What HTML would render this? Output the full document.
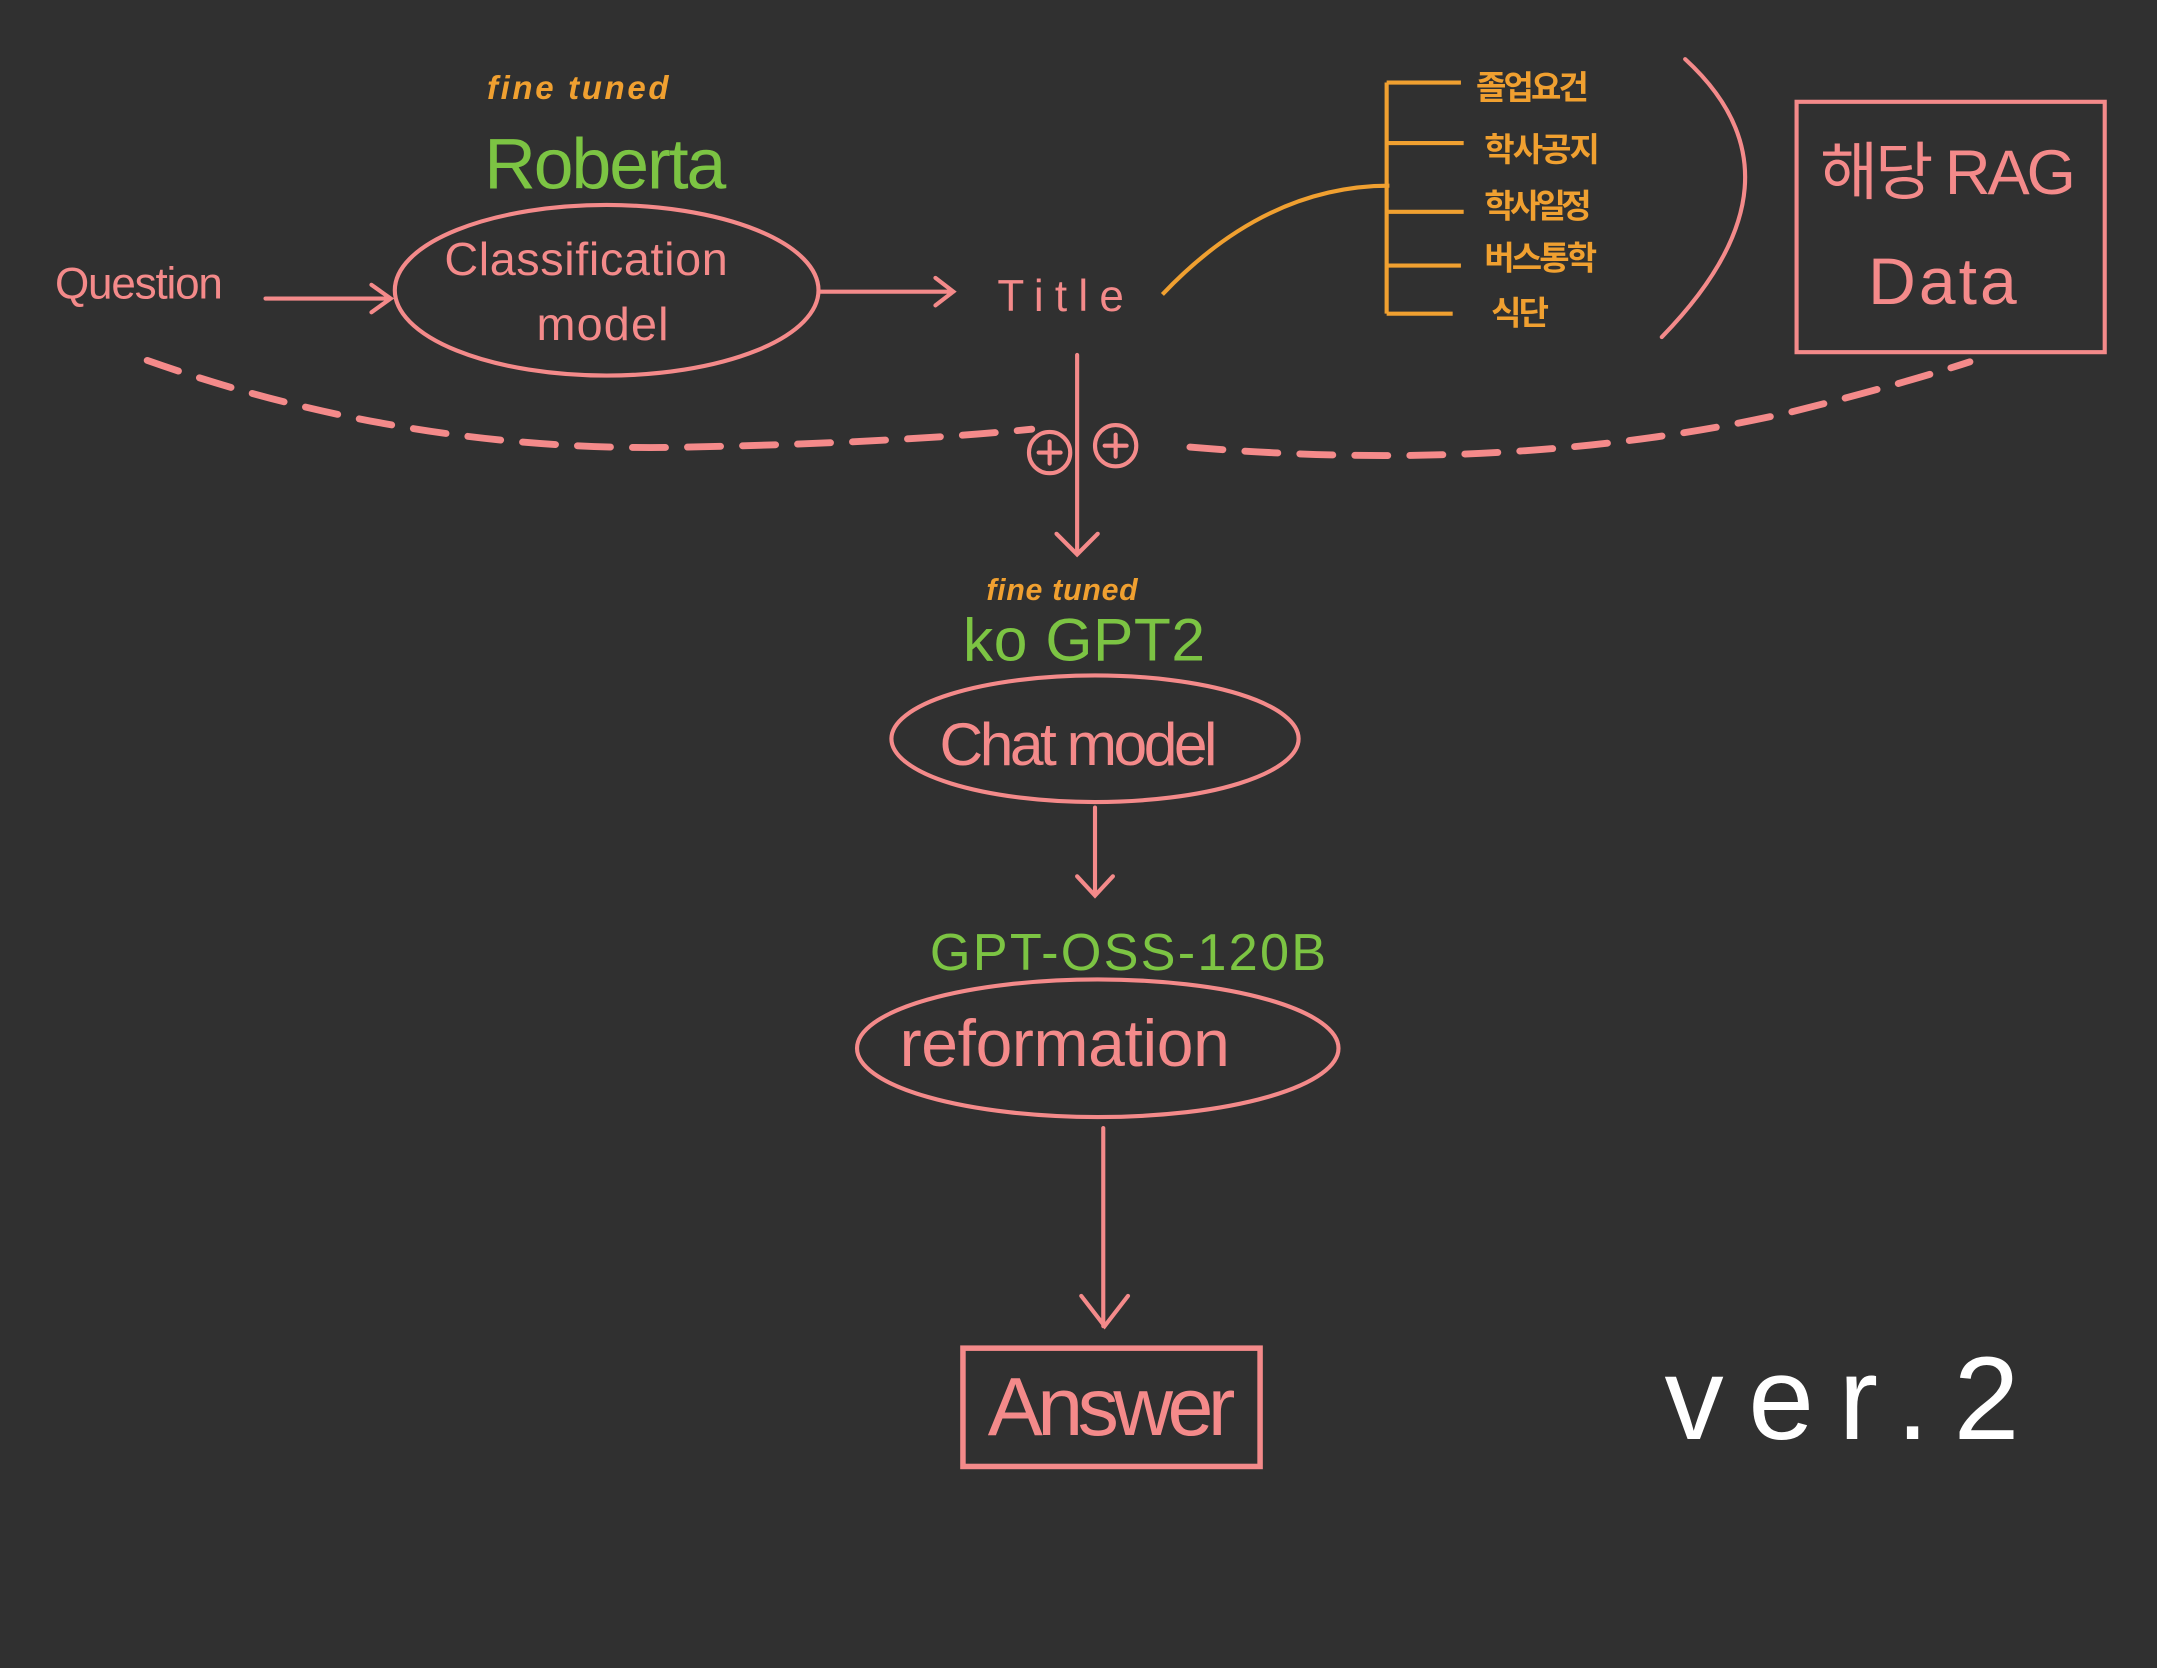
<!DOCTYPE html>
<html><head><meta charset="utf-8"><style>
html,body{margin:0;padding:0;background:#303030;}
svg{display:block;}
text{font-family:"Liberation Sans","Noto Sans CJK KR",sans-serif;}
</style></head><body>
<svg width="2157" height="1668" viewBox="0 0 1568 1212.5" preserveAspectRatio="none" xmlns="http://www.w3.org/2000/svg">
<rect width="1568" height="1213" fill="#303030"/>
<g fill="none" stroke="#f48a8a" stroke-width="3" stroke-linecap="round">
<ellipse cx="441" cy="211" rx="154" ry="62"/>
<ellipse cx="796" cy="537" rx="148" ry="46"/>
<ellipse cx="798" cy="762" rx="175" ry="50"/>
<rect x="700" y="980" width="216" height="86" stroke-width="4"/>
<rect x="1306" y="74" width="224" height="182"/>
<path d="M193 217 H283 M270 207 L284 217 L270 227"/>
<path d="M596 212 H693 M680 202 L693 212 L680 222"/>
<path d="M783 258 V402 M768 388 L783 403 L798 388"/>
<path d="M796 587 V651 M783 637 L796 651 L809 637"/>
<path d="M802 820 V964 M786 942 L803 964 L820 942"/>
<path d="M1225 43 Q1320 130 1208 245"/>
<path d="M107 262 Q300 330 500 325 Q650 322 750 312" stroke-width="5" stroke-dasharray="24 16"/>
<path d="M865 325 Q1100 345 1300 300 Q1380 280 1432 263" stroke-width="5" stroke-dasharray="24 16"/>
<circle cx="763" cy="329" r="15"/>
<path d="M755 329 H771 M763 321 V337"/>
<circle cx="811" cy="324" r="15"/>
<path d="M803 324 H819 M811 316 V332"/>
</g>
<g fill="none" stroke="#f0a030" stroke-width="3">
<path d="M1008 60 V228"/>
<path d="M1008 60 H1062 M1008 104 H1064 M1008 154 H1064 M1008 193 H1062 M1008 228 H1056"/>
<path d="M845 214 Q920 135 1010 135"/>
</g>
<g fill="#f0a030" font-size="24" font-weight="bold">
<text x="1073" y="72" textLength="82">졸업요건</text>
<text x="1079" y="117" textLength="84">학사공지</text>
<text x="1079" y="158" textLength="78">학사일정</text>
<text x="1079" y="196" textLength="82">버스통학</text>
<text x="1084" y="236" textLength="42">식단</text>
<text x="354" y="72" font-style="italic" textLength="132">fine tuned</text>
<text x="717" y="436" font-style="italic" font-size="22" textLength="110">fine tuned</text>
</g>
<g fill="#7cc443">
<text x="352" y="137" font-size="52" textLength="176">Roberta</text>
<text x="700" y="480" font-size="44" textLength="176">ko GPT2</text>
<text x="676" y="705" font-size="38" textLength="288">GPT-OSS-120B</text>
</g>
<g fill="#f48a8a">
<text x="40" y="217" font-size="32" textLength="122">Question</text>
<text x="323" y="200" font-size="34" textLength="206">Classification</text>
<text x="390" y="247" font-size="34" textLength="96">model</text>
<text x="725" y="226" font-size="32" textLength="92">Title</text>
<text x="683" y="556" font-size="44" textLength="202">Chat model</text>
<text x="654" y="775" font-size="48" textLength="240">reformation</text>
<text x="718" y="1043" font-size="60" textLength="180">Answer</text>
<text x="1323" y="141" font-size="46" textLength="186">해당 RAG</text>
<text x="1358" y="221" font-size="48" textLength="108">Data</text>
</g>
<text x="1210" y="1046" font-size="86" fill="#ffffff" textLength="258">ver.2</text>
</svg>
</body></html>
